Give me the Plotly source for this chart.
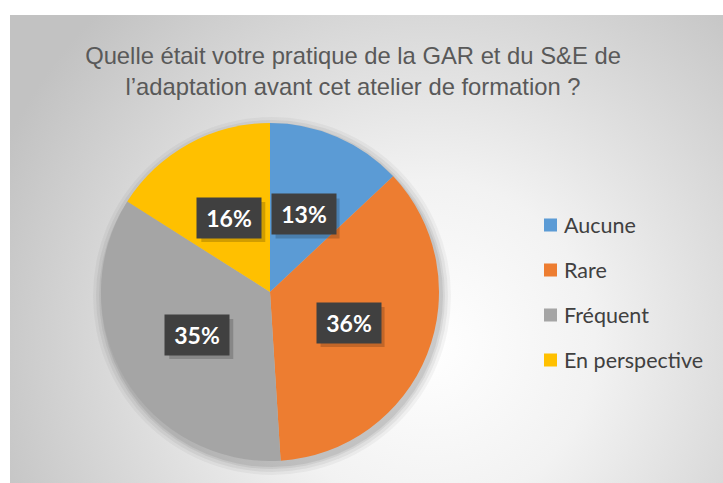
import math
import urllib.parse
import plotly.graph_objects as go

# ---- data ----
labels = ["Aucune", "Rare", "Fréquent", "En perspective"]
values = [13, 36, 35, 16]
colors = ["#5B9BD5", "#ED7D31", "#A5A5A5", "#FFC000"]
title_text = "Quelle était votre pratique de la GAR et du S&E de<br>l’adaptation avant cet atelier de formation ?"

W, H = 723, 483
# pie geometry (pixels)
cx, cy, r = 270, 292, 169

fig = go.Figure()
fig.add_trace(go.Pie(
    labels=labels, values=values, sort=False, direction="clockwise", rotation=0,
    marker=dict(colors=colors, line=dict(width=0)),
    textinfo="none", hoverinfo="label+percent", showlegend=False,
    domain=dict(x=[(cx - r) / W, (cx + r) / W], y=[(H - cy - r) / H, (H - cy + r) / H]),
))

# background radial gradient (chart area)
svg = (
    "<svg xmlns='http://www.w3.org/2000/svg' width='713' height='468' viewBox='0 0 713 468' preserveAspectRatio='none'>"
    "<defs><radialGradient id='g' gradientUnits='userSpaceOnUse' cx='420' cy='330' r='470'>"
    "<stop offset='0' stop-color='#ffffff'/><stop offset='0.35' stop-color='#f2f2f2'/>"
    "<stop offset='1' stop-color='#c2c2c2'/></radialGradient></defs>"
    "<rect width='713' height='468' fill='url(#g)'/></svg>"
)
src = "data:image/svg+xml;charset=utf-8," + urllib.parse.quote(svg)
fig.add_layout_image(dict(source=src, xref="paper", yref="paper", x=10 / W, y=(H - 15) / H,
                          sizex=(W - 10) / W, sizey=(H - 15) / H, sizing="stretch",
                          xanchor="left", yanchor="top", layer="below"))

# soft pie shadow
for grow, op in [(10, 0.04), (7, 0.05), (4, 0.06), (2, 0.07)]:
    fig.add_shape(type="circle", xref="paper", yref="paper", layer="below",
                  x0=(cx - r - grow + 2) / W, x1=(cx + r + grow + 2) / W,
                  y0=(H - cy - r - grow - 4) / H, y1=(H - cy + r + grow - 4) / H,
                  fillcolor=f"rgba(0,0,0,{op})", line=dict(width=0))

# data labels in dark boxes at mid-angle, half radius
total = sum(values)
cum = 0
annotations = []
bw, bh = 64, 40
for v in values:
    mid = (cum + v / 2) / total * 2 * math.pi
    cum += v
    px = cx + 0.5 * r * math.sin(mid)
    py = cy - 0.5 * r * math.cos(mid)
    # box shadow
    fig.add_shape(type="rect", xref="paper", yref="paper", layer="above",
                  x0=(px - bw / 2 + 4) / W, x1=(px + bw / 2 + 4) / W,
                  y0=(H - py - bh / 2 - 4) / H, y1=(H - py + bh / 2 - 4) / H,
                  fillcolor="rgba(0,0,0,0.18)", line=dict(width=0))
    annotations.append(dict(text=f"<b>{round(v / total * 100)}%</b>", xref="paper", yref="paper",
                            x=px / W, y=(H - py) / H, showarrow=False,
                            width=bw, height=bh, borderpad=0, xanchor="center", yanchor="middle",
                            font=dict(family="Lato", size=23, color="#FFFFFF"), bgcolor="#404040"))

# manual legend
leg_x, leg_y0, leg_dy = 544, 225, 45
for i, (lab, col) in enumerate(zip(labels, colors)):
    ly = leg_y0 + i * leg_dy
    fig.add_shape(type="rect", xref="paper", yref="paper",
                  x0=leg_x / W, x1=(leg_x + 13) / W,
                  y0=(H - ly - 6.5) / H, y1=(H - ly + 6.5) / H,
                  fillcolor=col, line=dict(width=0))
    annotations.append(dict(text=lab, xref="paper", yref="paper", x=(leg_x + 18) / W, y=(H - ly) / H,
                            xanchor="left", yanchor="middle", showarrow=False,
                            font=dict(family="Lato", size=21.5, color="#404040")))

fig.update_layout(
    width=W, height=H, margin=dict(l=0, r=0, t=0, b=0),
    paper_bgcolor="#FFFFFF", plot_bgcolor="rgba(0,0,0,0)",
    title=dict(text=title_text, x=353 / W, xanchor="center", y=(H - 64) / H, yanchor="middle",
               font=dict(family="Liberation Sans", size=23.8, color="#595959")),
    annotations=annotations,
)

fig.write_html("out.html")
